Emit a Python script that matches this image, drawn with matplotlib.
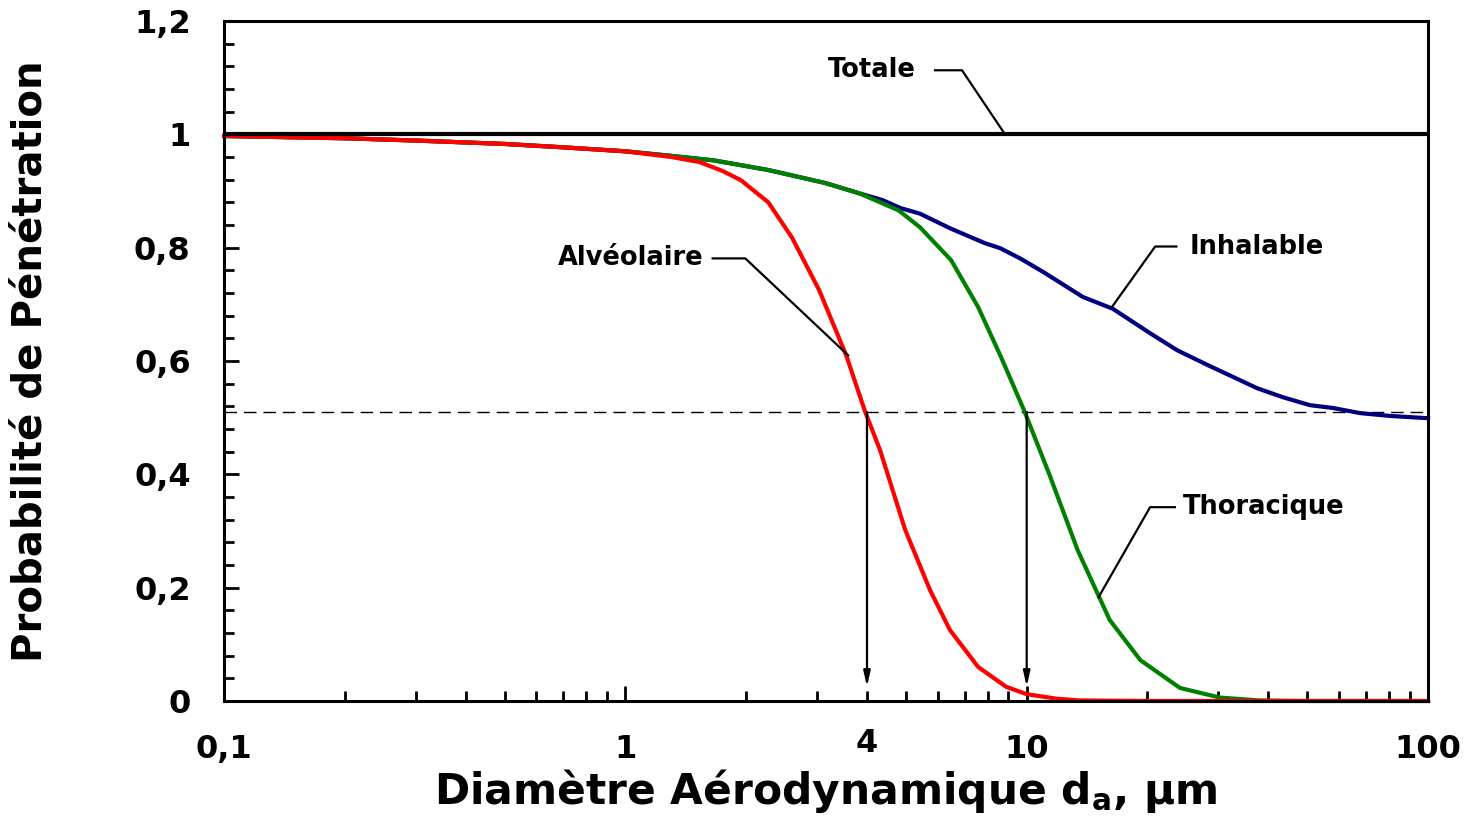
import matplotlib
matplotlib.use("Agg")
import matplotlib.pyplot as plt
from matplotlib.ticker import FixedLocator, NullFormatter, LogLocator

plt.rcParams['font.family'] = ['DejaVu Sans']
plt.rcParams['mathtext.fontset'] = 'dejavusans'

# Particle aerodynamic diameter (µm) and penetration probability
x_alv = [0.1, 0.2, 0.3, 0.5, 0.7, 1.0, 1.3, 1.53, 1.75, 1.94, 2.27, 2.6, 3.04, 3.55,
         3.96, 4.31, 4.98, 5.74, 6.44, 7.57, 8.89, 10.0, 11.9, 13.5, 20, 100]
y_alv = [0.997, 0.993, 0.989, 0.983, 0.977, 0.970, 0.960, 0.951, 0.935, 0.919, 0.880,
         0.818, 0.725, 0.610, 0.510, 0.443, 0.302, 0.196, 0.125, 0.060, 0.025, 0.012,
         0.004, 0.001, 0.0, 0.0]

x_tho = [0.1, 0.2, 0.3, 0.5, 0.7, 1.0, 1.3, 1.66, 2.27, 3.15, 3.82, 4.79, 5.42, 6.48,
         7.57, 8.63, 9.85, 11.4, 13.4, 16.1, 19.2, 24.1, 30.3, 38, 50, 100]
y_tho = [0.997, 0.993, 0.989, 0.983, 0.977, 0.970, 0.962, 0.954, 0.937, 0.914, 0.896,
         0.866, 0.836, 0.778, 0.695, 0.607, 0.513, 0.399, 0.266, 0.143, 0.072, 0.023,
         0.006, 0.001, 0.0, 0.0]

x_inh = [0.1, 0.2, 0.3, 0.5, 0.7, 1.0, 1.3, 1.66, 2.27, 3.15, 3.82, 4.37, 4.84, 5.42,
         6.45, 7.86, 8.59, 9.63, 11.0, 13.8, 16.4, 20.3, 23.7, 28.2, 37.5, 43.5, 50.8,
         58, 67.7, 80.4, 100]
y_inh = [0.997, 0.993, 0.989, 0.983, 0.977, 0.970, 0.962, 0.954, 0.937, 0.914, 0.896,
         0.884, 0.870, 0.860, 0.834, 0.808, 0.799, 0.781, 0.757, 0.713, 0.692, 0.649,
         0.619, 0.593, 0.552, 0.536, 0.522, 0.517, 0.508, 0.503, 0.499]

totale = 1.0
cut_level = 0.51
cut_sizes = [4, 10]

x_ticks = [0.1, 1, 10, 100]
x_labels = ['0,1', '1', '10', '100']
y_ticks = [0, 0.2, 0.4, 0.6, 0.8, 1.0, 1.2]
y_labels = ['0', '0,2', '0,4', '0,6', '0,8', '1', '1,2']

fig = plt.figure(figsize=(14.74, 8.19), dpi=100)
ax = fig.add_axes([0.152, 0.1441, 0.8168, 0.8303])

ax.set_xscale('log')
ax.set_xlim(0.1, 100)
ax.set_ylim(0, 1.2)

ax.plot(x_inh, y_inh, color='#000080', lw=3.0, zorder=3, clip_on=False)
ax.plot(x_tho, y_tho, color='#008000', lw=3.0, zorder=4, clip_on=False)
ax.plot(x_alv, y_alv, color='#FF0000', lw=3.0, zorder=5, clip_on=False)
ax.plot([0.1, 100], [totale, totale], color='black', lw=3.0, zorder=6)

# 50 % cut level and cut-point arrows
ax.plot([0.1, 100], [cut_level, cut_level], color='black', lw=1.0,
        dashes=(9, 5), zorder=2)
for d in cut_sizes:
    ax.annotate('', xy=(d, 0.025), xytext=(d, cut_level),
                arrowprops=dict(arrowstyle='-|>,head_length=0.9,head_width=0.2',
                                color='black', lw=1.6, shrinkA=0, shrinkB=0),
                zorder=7)

# Curve labels with leader lines
lw_lead = 1.6
lab_fs = 18.5
ax.plot([5.91, 6.90, 8.83], [1.113, 1.113, 1.0], color='black', lw=lw_lead, zorder=7)
ax.text(5.3, 1.113, 'Totale', ha='right', va='center', fontsize=lab_fs, fontweight='bold')

ax.plot([1.65, 1.99, 3.59], [0.781, 0.781, 0.610], color='black', lw=lw_lead, zorder=7)
ax.text(1.57, 0.781, 'Alvéolaire', ha='right', va='center', fontsize=lab_fs, fontweight='bold')

ax.plot([16.3, 20.9, 23.6], [0.695, 0.802, 0.802], color='black', lw=lw_lead, zorder=7)
ax.text(25.5, 0.802, 'Inhalable', ha='left', va='center', fontsize=lab_fs, fontweight='bold')

ax.plot([15.1, 20.3, 23.4], [0.183, 0.342, 0.342], color='black', lw=lw_lead, zorder=7)
ax.text(24.5, 0.342, 'Thoracique', ha='left', va='center', fontsize=lab_fs, fontweight='bold')

# Axes styling
for s in ax.spines.values():
    s.set_linewidth(2.2)
    s.set_zorder(8)

ax.set_xticks(x_ticks)
ax.set_xticklabels(x_labels)
ax.xaxis.set_minor_locator(LogLocator(base=10, subs=range(2, 10)))
ax.xaxis.set_minor_formatter(NullFormatter())
ax.set_yticks(y_ticks)
ax.set_yticklabels(y_labels)
ax.yaxis.set_minor_locator(FixedLocator([i * 0.04 for i in range(31)]))

ax.tick_params(which='major', direction='in', length=11, width=2.0,
               labelsize=23)
ax.tick_params(which='minor', direction='in', length=7, width=2.0)
ax.tick_params(axis='x', which='major', pad=24)
ax.tick_params(axis='y', which='major', pad=24)
for lab in ax.get_xticklabels() + ax.get_yticklabels():
    lab.set_fontweight('bold')

ax.text(4, -0.047, '4', ha='center', va='top', fontsize=23, fontweight='bold')

ax.set_xlabel('Diamètre Aérodynamique d$_{\\mathbf{a}}$, μm', fontsize=30.5,
              fontweight='bold', labelpad=1)
ax.set_ylabel('Probabilité de Pénétration', fontsize=29, fontweight='bold',
              labelpad=60)

fig.savefig('out.png', dpi=100)
